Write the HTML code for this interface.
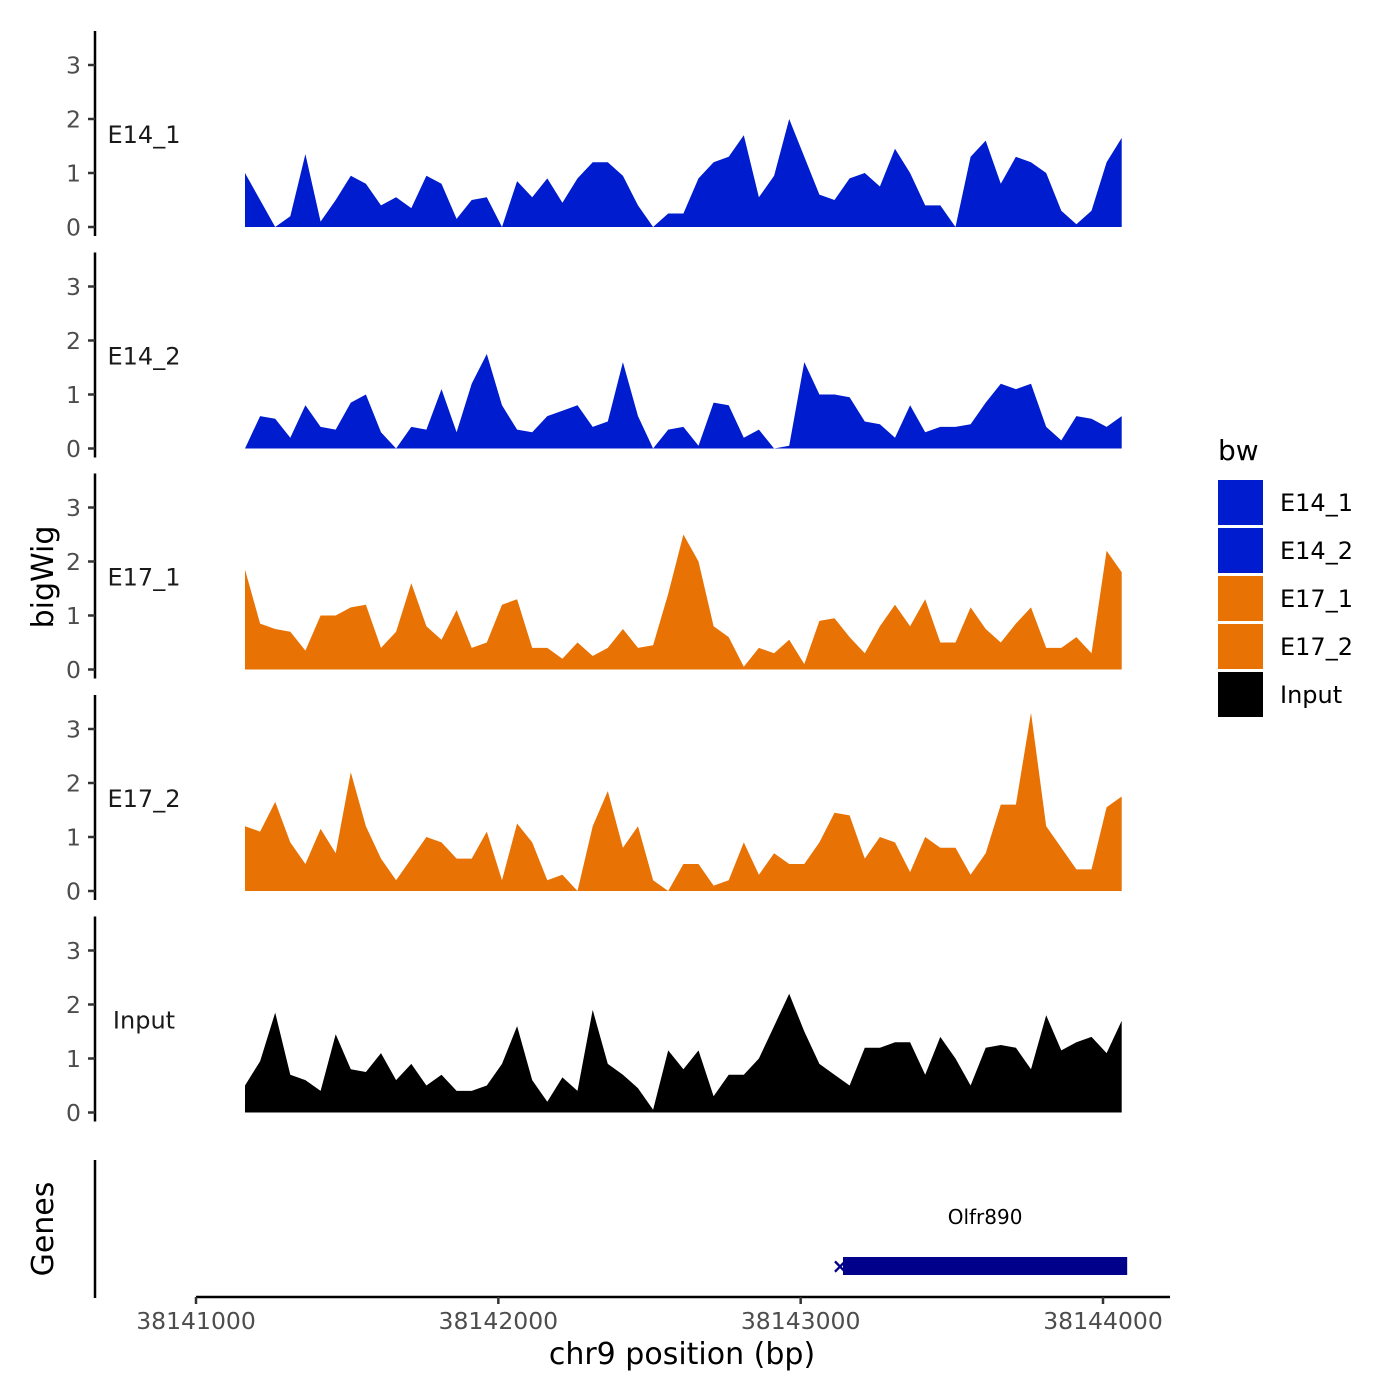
<!DOCTYPE html>
<html><head><meta charset="utf-8"><style>
html,body{margin:0;padding:0;background:#fff}
svg{display:block;font-family:"DejaVu Sans","Liberation Sans",sans-serif}
</style></head><body>
<svg id="chart" width="1400" height="1400" viewBox="0 0 1400 1400"></svg>
<script>
const trackNames = ["E14_1","E14_2","E17_1","E17_2","Input"];
const trackColors = ["#001ccf","#001ccf","#e87203","#e87203","#000000"];
const startBp = 38141162;
const stepBp = 50;
const e14_1 = [1.0,0.5,0,0.2,1.35,0.1,0.5,0.95,0.8,0.4,0.55,0.35,0.95,0.8,0.15,0.5,0.55,0,0.85,0.55,0.9,0.45,0.9,1.2,1.2,0.95,0.4,0,0.25,0.25,0.9,1.2,1.3,1.7,0.55,0.95,2.0,1.3,0.6,0.5,0.9,1.0,0.75,1.45,1.0,0.4,0.4,0,1.3,1.6,0.8,1.3,1.2,1.0,0.3,0.05,0.3,1.2,1.65];
const e14_2 = [0,0.6,0.55,0.2,0.8,0.4,0.35,0.85,1.0,0.3,0,0.4,0.35,1.1,0.3,1.2,1.75,0.8,0.35,0.3,0.6,0.7,0.8,0.4,0.5,1.6,0.6,0,0.35,0.4,0.05,0.85,0.8,0.2,0.35,0,0.05,1.6,1.0,1.0,0.95,0.5,0.45,0.2,0.8,0.3,0.4,0.4,0.45,0.85,1.2,1.1,1.2,0.4,0.15,0.6,0.55,0.4,0.6];
const e17_1 = [1.85,0.85,0.75,0.7,0.35,1.0,1.0,1.15,1.2,0.4,0.7,1.6,0.8,0.55,1.1,0.4,0.5,1.2,1.3,0.4,0.4,0.2,0.5,0.25,0.4,0.75,0.4,0.45,1.4,2.5,2.0,0.8,0.6,0.05,0.4,0.3,0.55,0.1,0.9,0.95,0.6,0.3,0.8,1.2,0.8,1.3,0.5,0.5,1.15,0.75,0.5,0.85,1.15,0.4,0.4,0.6,0.3,2.2,1.8];
const e17_2 = [1.2,1.1,1.65,0.9,0.5,1.15,0.7,2.2,1.2,0.6,0.2,0.6,1.0,0.9,0.6,0.6,1.1,0.2,1.25,0.9,0.2,0.3,0,1.2,1.85,0.8,1.2,0.2,0,0.5,0.5,0.1,0.2,0.9,0.3,0.7,0.5,0.5,0.9,1.45,1.4,0.6,1.0,0.9,0.35,1.0,0.8,0.8,0.3,0.7,1.6,1.6,3.3,1.2,0.8,0.4,0.4,1.55,1.75];
const input = [0.5,0.95,1.85,0.7,0.6,0.4,1.45,0.8,0.75,1.1,0.6,0.9,0.5,0.7,0.4,0.4,0.5,0.9,1.6,0.6,0.2,0.65,0.4,1.9,0.9,0.7,0.45,0.05,1.15,0.8,1.15,0.3,0.7,0.7,1.0,1.6,2.2,1.5,0.9,0.7,0.5,1.2,1.2,1.3,1.3,0.7,1.4,1.0,0.5,1.2,1.25,1.2,0.8,1.8,1.15,1.3,1.4,1.1,1.7];
const trackData = [e14_1,e14_2,e17_1,e17_2,input];
const yTicks = [0,1,2,3];
const xTicks = [38141000,38142000,38143000,38144000];
const xTickLabels = ["38141000","38142000","38143000","38144000"];
const geneName = "Olfr890";
const geneStart = 38143140;
const geneEnd = 38144080;

const NS="http://www.w3.org/2000/svg";
const svg=document.getElementById('chart');
function el(tag,attrs,parent){const e=document.createElementNS(NS,tag);for(const k in attrs)e.setAttribute(k,attrs[k]);(parent||svg).appendChild(e);return e;}
function xScale(bp){return 196+(bp-38141000)*(1103-196)/3000;}
const zeroY=[227,448.5,669.5,891,1112.5];
const unit=54;

trackNames.forEach((name,t)=>{
  const g=el('g',{});
  
  
  const y0=zeroY[t];
  const yS=v=>y0-v*unit;
  const vals=trackData[t];
  let d='M'+xScale(startBp)+','+y0;
  vals.forEach((v,i)=>{d+=' L'+xScale(startBp+i*stepBp).toFixed(1)+','+yS(v).toFixed(1);});
  d+=' L'+xScale(startBp+(vals.length-1)*stepBp).toFixed(1)+','+y0+' Z';
  const p=el('path',{d:d,fill:trackColors[t],stroke:'none'},g);
  
  
  const ax=el('line',{x1:95,x2:95,y1:y0-196,y2:y0+9,stroke:'#000','stroke-width':2.5},g);
  
  
  yTicks.forEach(v=>{
    el('line',{x1:88,x2:95,y1:yS(v),y2:yS(v),stroke:'#333','stroke-width':2.5},g);
    const tx=el('text',{x:81,y:yS(v)+8.5,'text-anchor':'end','font-size':23.5,fill:'#4d4d4d'},g);
    tx.textContent=v;
    
    
  });
  const lb=el('text',{x:144,y:y0-84,'text-anchor':'middle','font-size':name==='Input'?24:24,fill:'#1a1a1a'},g);
  lb.textContent=name;
  
  
});

// genes panel
const gax=el('line',{x1:95,x2:95,y1:1160,y2:1298,stroke:'#000','stroke-width':2.5});


const gr=el('rect',{x:xScale(geneStart),y:1257,width:xScale(geneEnd)-xScale(geneStart),height:18,fill:'#00008b'});


const gm=el('text',{x:xScale(geneStart)-3,y:1273,'text-anchor':'middle','font-size':20,'font-weight':'bold',fill:'#00008b'});
gm.textContent='×';


const gt=el('text',{x:(xScale(geneStart)+xScale(geneEnd))/2,y:1224,'text-anchor':'middle','font-size':20,fill:'#000'});
gt.textContent=geneName;



// x axis
const xa=el('line',{x1:196,x2:1170,y1:1297,y2:1297,stroke:'#000','stroke-width':2.5});


xTicks.forEach((v,i)=>{
  el('line',{x1:xScale(v),x2:xScale(v),y1:1297,y2:1304,stroke:'#333','stroke-width':2.5});
  const t=el('text',{x:xScale(v),y:1329,'text-anchor':'middle','font-size':23.5,fill:'#4d4d4d'});
  t.textContent=xTickLabels[i];
  
  
});
const xt=el('text',{x:682,y:1364,'text-anchor':'middle','font-size':30,fill:'#000'});
xt.textContent='chr9 position (bp)';


const yt=el('text',{x:0,y:0,'text-anchor':'middle','font-size':30,fill:'#000',transform:'translate(53,577) rotate(-90)'});
yt.textContent='bigWig';


const gy=el('text',{x:0,y:0,'text-anchor':'middle','font-size':30,fill:'#000',transform:'translate(53,1229) rotate(-90)'});
gy.textContent='Genes';



// legend
const lt=el('text',{x:1218,y:460,'font-size':28,fill:'#000'});
lt.textContent='bw';


trackNames.forEach((n,i)=>{
  const r=el('rect',{x:1218,y:480+i*48,width:45,height:45,fill:trackColors[i]});
  
  
  const t=el('text',{x:1280,y:511+i*48,'font-size':24,fill:'#000'});
  t.textContent=n;
  
  
});
</script>
</body></html>
